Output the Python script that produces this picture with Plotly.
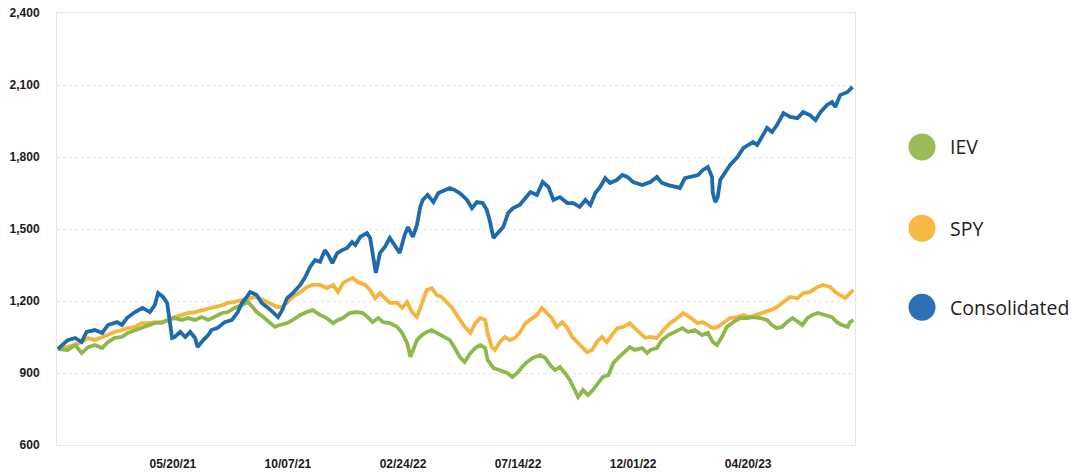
import pandas as pd
import plotly.graph_objects as go

START = "2020-12-31"

# Consolidated (blue): days since start, value
cons_days = [0, 12, 21, 29, 35, 45, 54, 61, 72, 78, 84, 94, 103, 112, 118, 122, 128, 133, 136, 139,
             142, 149, 155, 161, 167, 170, 177, 183, 187, 194, 203, 212, 219, 224, 230, 234, 242, 248,
             256, 262, 268, 273, 279, 286, 295, 301, 307, 313, 319, 325, 329, 334, 340, 346, 352, 358,
             362, 368, 376, 380, 383, 387, 392, 398, 404, 410, 416, 422, 426, 432, 437, 441, 444, 450,
             457, 463, 471, 477, 483, 489, 498, 504, 510, 517, 522, 526, 530, 536, 542, 548, 554, 562,
             569, 575, 583, 590, 597, 603, 611, 620, 627, 635, 642, 648, 654, 660, 666, 672, 680, 687,
             693, 700, 711, 721, 729, 735, 743, 751, 757, 763, 772, 779, 785, 791, 796, 797, 800, 803,
             806, 812, 818, 827, 834, 840, 846, 851, 857, 863, 869, 875, 883, 891, 900, 907, 915, 922,
             928, 936, 942, 946, 952, 961, 967]
cons_values = [1000, 1037, 1046, 1029, 1071, 1079, 1067, 1100, 1112, 1100, 1129, 1154, 1171, 1154, 1183,
               1233, 1217, 1192, 1121, 1046, 1050, 1071, 1050, 1071, 1046, 1008, 1037, 1058, 1079, 1087,
               1112, 1121, 1154, 1192, 1217, 1237, 1225, 1192, 1171, 1150, 1133, 1162, 1212, 1233, 1267,
               1300, 1342, 1371, 1363, 1412, 1392, 1358, 1400, 1412, 1421, 1446, 1433, 1467, 1483, 1463,
               1400, 1317, 1400, 1425, 1463, 1433, 1400, 1475, 1508, 1467, 1517, 1592, 1621, 1642, 1612,
               1650, 1662, 1671, 1662, 1650, 1621, 1587, 1612, 1608, 1579, 1529, 1463, 1487, 1508, 1567,
               1587, 1600, 1629, 1654, 1642, 1696, 1675, 1621, 1633, 1608, 1608, 1592, 1621, 1600, 1650,
               1675, 1712, 1692, 1704, 1725, 1717, 1696, 1683, 1696, 1717, 1692, 1683, 1675, 1671, 1712,
               1721, 1725, 1746, 1758, 1717, 1650, 1612, 1633, 1704, 1733, 1767, 1800, 1837, 1850, 1862,
               1850, 1883, 1921, 1904, 1933, 1983, 1967, 1962, 1987, 1975, 1954, 1987, 2017, 2029, 2008,
               2058, 2071, 2092]

# SPY (yellow)
spy_days = [0, 12, 21, 29, 37, 45, 54, 61, 69, 78, 85, 94, 102, 110, 118, 127, 134, 142, 151, 158,
            167, 175, 183, 191, 200, 207, 215, 224, 231, 240, 250, 258, 267, 273, 279, 286, 295, 303,
            310, 319, 327, 335, 341, 347, 353, 359, 365, 374, 380, 386, 392, 398, 404, 413, 419, 425,
            431, 437, 443, 449, 455, 461, 467, 474, 480, 483, 489, 495, 502, 508, 514, 520, 523, 528,
            532, 538, 544, 550, 556, 562, 569, 575, 583, 589, 595, 601, 607, 614, 620, 626, 632, 638,
            644, 650, 656, 662, 668, 674, 681, 688, 696, 702, 709, 715, 721, 729, 737, 745, 754, 761,
            769, 778, 785, 791, 797, 803, 810, 818, 827, 834, 842, 851, 858, 867, 875, 883, 891, 900,
            907, 915, 924, 931, 940, 946, 952, 958, 964, 968]
spy_values = [1000, 1008, 1017, 1029, 1046, 1037, 1050, 1058, 1071, 1079, 1087, 1092, 1108, 1108, 1112,
              1108, 1121, 1133, 1142, 1150, 1154, 1162, 1171, 1175, 1183, 1192, 1196, 1204, 1212, 1217,
              1204, 1192, 1175, 1175, 1196, 1217, 1237, 1258, 1267, 1267, 1254, 1267, 1237, 1275, 1287,
              1296, 1279, 1267, 1246, 1212, 1233, 1212, 1192, 1192, 1171, 1196, 1154, 1133, 1192, 1246,
              1254, 1225, 1217, 1192, 1171, 1154, 1121, 1092, 1067, 1108, 1129, 1121, 1067, 1008, 996,
              1029, 1050, 1037, 1046, 1067, 1108, 1121, 1142, 1171, 1150, 1129, 1092, 1112, 1087, 1050,
              1029, 1008, 987, 996, 1029, 1050, 1029, 1058, 1087, 1092, 1108, 1087, 1067, 1046, 1050,
              1046, 1079, 1108, 1129, 1150, 1133, 1108, 1112, 1100, 1087, 1092, 1108, 1129, 1133, 1142,
              1133, 1142, 1150, 1162, 1175, 1196, 1217, 1212, 1233, 1237, 1258, 1267, 1258, 1237, 1225,
              1212, 1233, 1246]

# IEV (green)
iev_days = [0, 12, 21, 29, 37, 45, 54, 61, 69, 78, 85, 94, 102, 110, 118, 127, 134, 142, 151, 158,
            167, 175, 183, 191, 200, 207, 215, 224, 231, 236, 242, 250, 258, 264, 270, 279, 286, 295,
            303, 310, 319, 327, 335, 341, 347, 355, 364, 371, 377, 383, 390, 396, 404, 413, 419, 425,
            429, 432, 437, 443, 449, 455, 461, 469, 477, 483, 489, 495, 502, 508, 514, 520, 523, 530,
            538, 547, 553, 559, 565, 571, 578, 587, 593, 599, 605, 611, 617, 623, 629, 633, 639, 645,
            651, 657, 663, 670, 676, 682, 688, 696, 702, 711, 717, 721, 729, 735, 743, 751, 760, 767,
            775, 784, 791, 797, 802, 808, 814, 822, 830, 839, 846, 855, 863, 869, 875, 881, 887, 894,
            900, 906, 912, 918, 925, 934, 942, 948, 954, 961, 964, 968]
iev_values = [1000, 996, 1017, 983, 1008, 1017, 1004, 1029, 1046, 1050, 1067, 1079, 1087, 1100, 1108,
              1112, 1121, 1129, 1121, 1129, 1121, 1133, 1121, 1133, 1150, 1154, 1171, 1183, 1196, 1179,
              1154, 1133, 1112, 1092, 1100, 1108, 1121, 1142, 1154, 1162, 1142, 1129, 1108, 1121, 1129,
              1150, 1154, 1150, 1133, 1112, 1129, 1112, 1108, 1092, 1067, 1025, 967, 996, 1037, 1058,
              1071, 1079, 1067, 1050, 1037, 1004, 967, 946, 983, 1004, 1017, 1004, 954, 921, 912, 900,
              883, 900, 925, 946, 963, 975, 963, 933, 912, 925, 900, 871, 829, 800, 829, 808, 829, 858,
              883, 892, 942, 963, 983, 1008, 996, 1004, 983, 996, 1004, 1037, 1058, 1071, 1087, 1071,
              1079, 1058, 1067, 1029, 1017, 1050, 1092, 1112, 1129, 1129, 1133, 1129, 1121, 1100, 1087,
              1092, 1112, 1129, 1112, 1100, 1129, 1142, 1150, 1142, 1133, 1112, 1100, 1092, 1112, 1121]

tick_dates = ["2021-05-20", "2021-10-07", "2022-02-24", "2022-07-14", "2022-12-01", "2023-04-20"]
y_ticks = [600, 900, 1200, 1500, 1800, 2100, 2400]
legend_names = ["IEV", "SPY", "Consolidated"]
legend_colors = ["#9bbb59", "#f6b944", "#2e70b6"]

start = pd.Timestamp(START)


def to_dates(days):
    return start + pd.to_timedelta(days, unit="D")


fig = go.Figure()
fig.add_trace(go.Scatter(x=to_dates(spy_days), y=spy_values, mode="lines", name="SPY",
                         line=dict(color="#f5b53c", width=3.8), showlegend=False))
fig.add_trace(go.Scatter(x=to_dates(iev_days), y=iev_values, mode="lines", name="IEV",
                         line=dict(color="#8fb84c", width=3.8), showlegend=False))
fig.add_trace(go.Scatter(x=to_dates(cons_days), y=cons_values, mode="lines", name="Consolidated",
                         line=dict(color="#1d6bad", width=3.8), showlegend=False))

# legend drawn as circles + text to the right of the plot
leg_y = [0.690, 0.502, 0.319]
for name, col, yy in zip(legend_names, legend_colors, leg_y):
    fig.add_shape(type="circle", xref="paper", yref="paper", xsizemode="pixel", ysizemode="pixel",
                  xanchor=1.084, yanchor=yy, x0=-13.5, x1=13.5, y0=-13.5, y1=13.5,
                  fillcolor=col, line=dict(width=0))
    fig.add_annotation(x=1.117, y=yy, xref="paper", yref="paper", text=name, showarrow=False,
                       xanchor="left", yanchor="middle",
                       font=dict(family="Open Sans", size=19.5, color="#222222"))

fig.update_layout(
    width=1076, height=474,
    margin=dict(l=57, r=221, t=13, b=29, autoexpand=False),
    paper_bgcolor="white", plot_bgcolor="white",
    showlegend=False,
)
fig.update_xaxes(
    type="date", automargin=False,
    range=["2020-12-30", "2023-08-28"],
    tickvals=tick_dates, tickformat="%m/%d/%y",
    showgrid=False, showline=True, mirror=True, linecolor="#e6e6e6", linewidth=1,
    ticks="", ticklabelstandoff=8,
    tickfont=dict(family="Liberation Sans", size=12, color="#1a1a1a", weight="bold"),
    zeroline=False,
)
fig.update_yaxes(
    automargin=False,
    range=[600, 2400], tickvals=y_ticks, tickformat=",",
    showgrid=True, gridcolor="#e3e3e3", griddash="dot", gridwidth=1,
    showline=True, mirror=True, linecolor="#e6e6e6", linewidth=1,
    ticks="", ticklabelstandoff=14,
    tickfont=dict(family="Liberation Sans", size=12, color="#1a1a1a", weight="bold"),
    zeroline=False,
)

fig.write_html(
    "out.html",
    config={"displayModeBar": False},
    post_script="document.body.style.margin='0';document.body.style.overflow='hidden';",
)
